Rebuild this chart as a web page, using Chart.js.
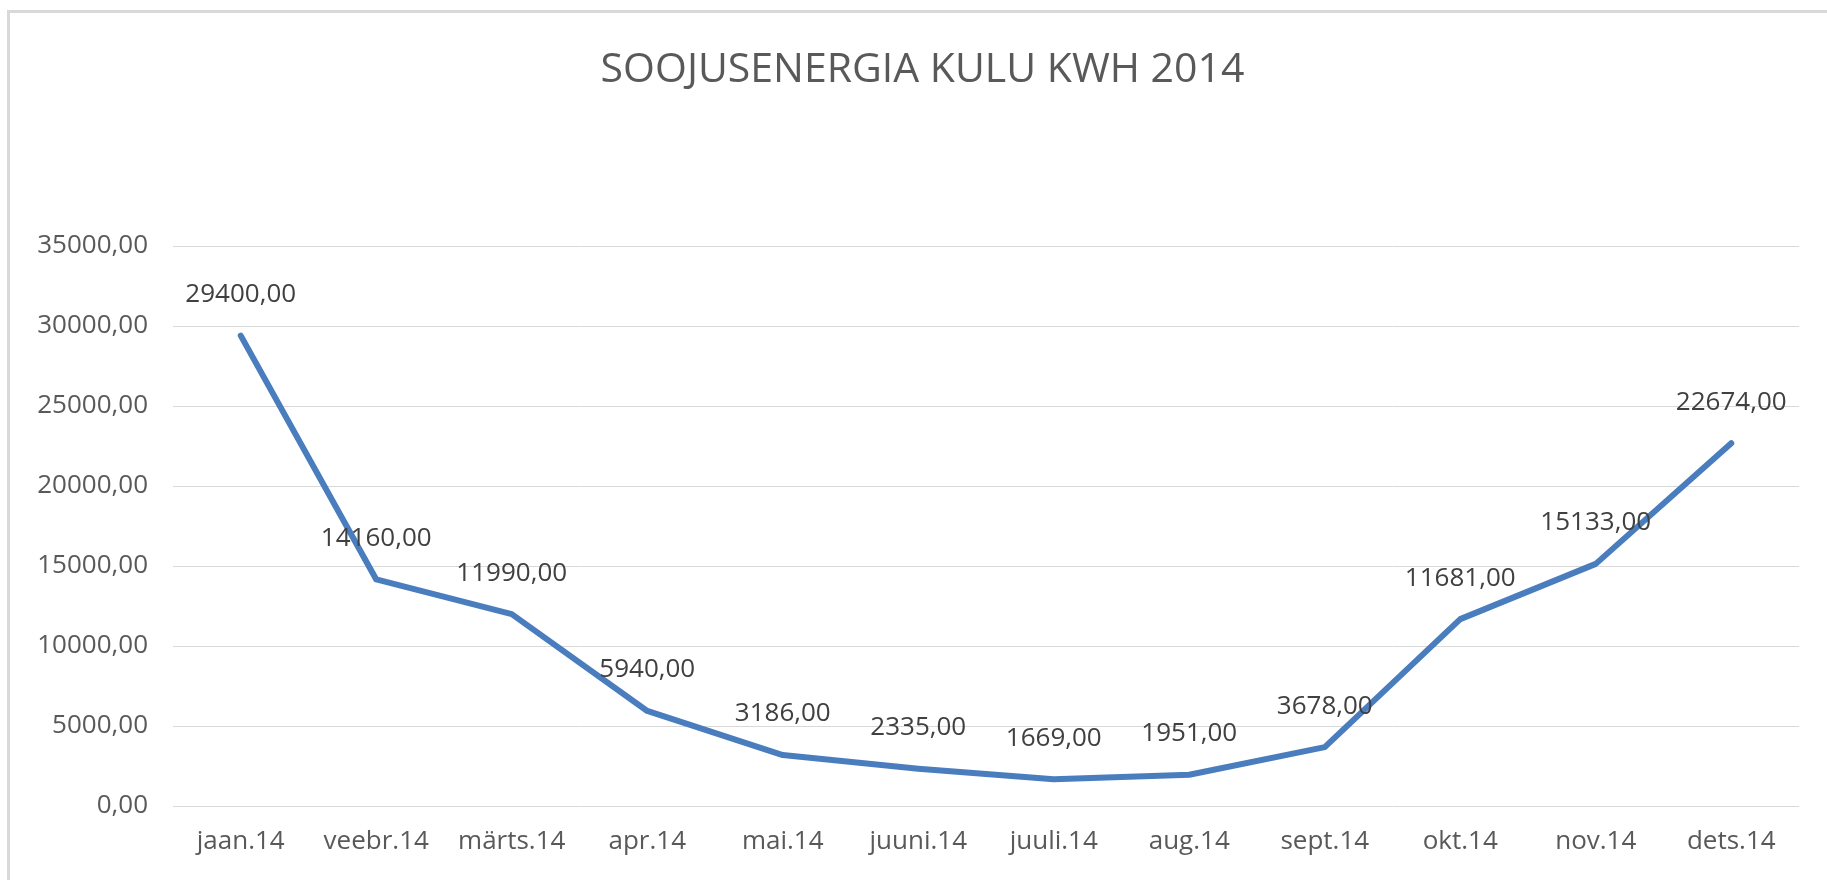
<!DOCTYPE html>
<html>
<head>
<meta charset="utf-8">
<script src="https://cdn.jsdelivr.net/npm/chart.js@4/dist/chart.umd.min.js"></script>
<style>
    html, body { margin: 0; padding: 0; background: #fff; overflow: hidden; }
    /* the original chart frame runs a little past the right edge of the window */
    .frame {
        position: absolute;
        left: 7px;
        top: 10px;
        width: 1825px;
        height: 867px;
        border-left: 3px solid #d9d9d9;
        border-top: 3px solid #d9d9d9;
    }
</style>
</head>
<body>
<div class="frame">
    <canvas id="usageChart"></canvas>
</div>
<script>
const chartTitle = 'SOOJUSENERGIA KULU KWH 2014';
const months = ['jaan.14', 'veebr.14', 'märts.14', 'apr.14', 'mai.14', 'juuni.14',
    'juuli.14', 'aug.14', 'sept.14', 'okt.14', 'nov.14', 'dets.14'];
const usageKwh = [29400, 14160, 11990, 5940, 3186, 2335, 1669, 1951, 3678, 11681, 15133, 22674];
const yTicks = [0, 5000, 10000, 15000, 20000, 25000, 30000, 35000];

// Estonian style number: 29400,00
function fmt(v) {
    return Number(v).toFixed(2).replace('.', ',');
}

// draws the value above each point, like excel data labels
const valueLabels = {
    id: 'valueLabels',
    afterDatasetsDraw(chart) {
        const ctx = chart.ctx;
        const meta = chart.getDatasetMeta(0);
        ctx.save();
        ctx.font = '26px "Open Sans"';
        ctx.fillStyle = '#404040';
        ctx.textAlign = 'center';
        ctx.textBaseline = 'middle';
        meta.data.forEach((pt, i) => {
            ctx.fillText(fmt(usageKwh[i]), pt.x, pt.y - 41);
        });
        ctx.restore();
    }
};

// title centred on the whole frame, not on the padded layout box
const frameTitle = {
    id: 'frameTitle',
    afterDraw(chart) {
        const ctx = chart.ctx;
        ctx.save();
        ctx.font = '41px "Open Sans"';
        ctx.fillStyle = '#595959';
        ctx.textAlign = 'center';
        ctx.textBaseline = 'middle';
        ctx.fillText(chartTitle, chart.width / 2, 57);
        ctx.restore();
    }
};

document.addEventListener('DOMContentLoaded', () => {
    Chart.defaults.font.family = '"Open Sans", sans-serif';

    const ctx = document.getElementById('usageChart');
    new Chart(ctx.getContext('2d'), {
        type: 'line',
        data: {
            labels: months,
            datasets: [{
                data: usageKwh,
                borderColor: '#4a7dbd',
                borderWidth: 6,
                borderJoinStyle: 'round',
                borderCapStyle: 'round',
                pointRadius: 0,
                tension: 0,
                fill: false
            }]
        },
        options: {
            responsive: true,
            maintainAspectRatio: false,
            animation: false,
            layout: { padding: { left: 0, right: 36, top: 233, bottom: 14 } },
            plugins: {
                legend: { display: false },
                tooltip: { enabled: false },
                title: { display: false }
            },
            scales: {
                x: {
                    offset: true,
                    grid: { display: false, drawTicks: false },
                    border: { display: false },
                    ticks: {
                        color: '#595959',
                        font: { size: 26 },
                        padding: 20,
                        maxRotation: 0,
                        autoSkip: false
                    },
                    afterFit: (s) => { s.height = 60; }
                },
                y: {
                    min: 0,
                    max: 35000,
                    grid: { color: '#d9d9d9', lineWidth: 1, drawTicks: false },
                    border: { display: false },
                    afterBuildTicks: (s) => { s.ticks = yTicks.map(v => ({ value: v })); },
                    ticks: {
                        color: '#595959',
                        font: { size: 26 },
                        padding: 25,
                        callback: (v) => fmt(v)
                    },
                    afterFit: (s) => { s.width = 163; }
                }
            }
        },
        plugins: [valueLabels, frameTitle]
    });
});
</script>
</body>
</html>
